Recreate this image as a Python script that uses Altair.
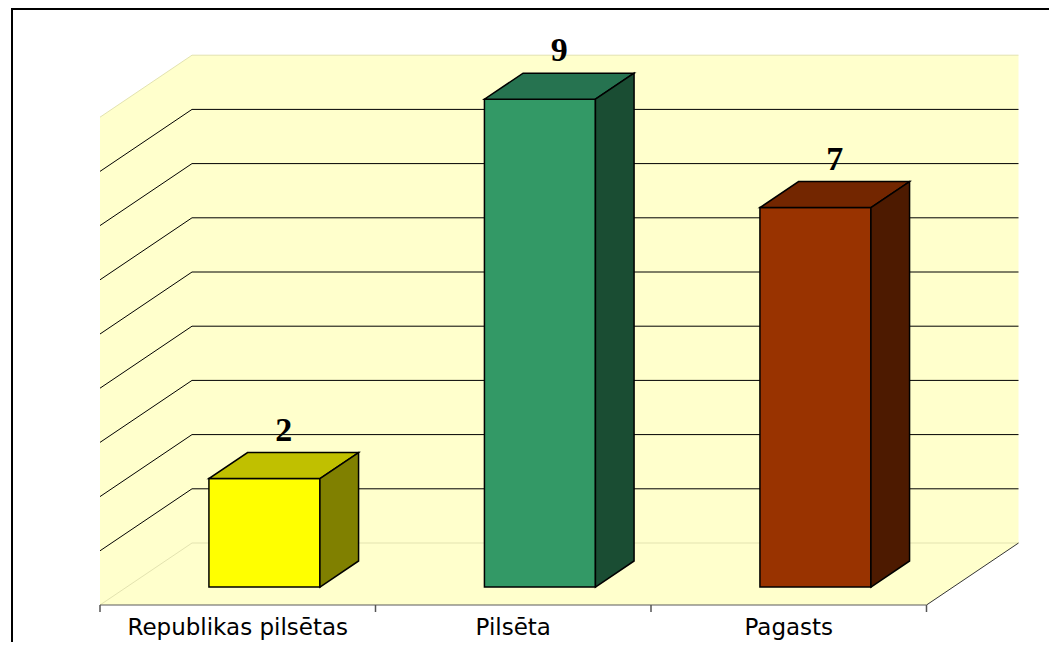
import altair as alt
import pandas as pd

# ---- data ----
categories = ["Republikas pilsētas", "Pilsēta", "Pagasts"]
values = [2, 9, 7]
front_colors = ["#FFFF00", "#339966", "#993300"]
top_colors = ["#C0C000", "#267350", "#732600"]
side_colors = ["#808000", "#1A4D33", "#4D1A00"]
grid_values = [1, 2, 3, 4, 5, 6, 7, 8]
wall_max = 9

# ---- style / projection constants ----
CAT_PX = 275.5          # pixels per category along the front edge
VAL_PX = 54.2           # pixels per value unit
DX = 92 / CAT_PX        # depth shift in x (category units)
DY = 62 / VAL_PX        # depth shift in y (value units)
BAR_W = 111 / CAT_PX
D0, D1 = 0.29, 0.71     # bar front / back depth (0 = front, 1 = back wall)
W, H = 1041, 634
ORIGIN_X_PX = 92
ZERO_Y_PX = 535
WALL = "#FFFFCC"
LIGHT = "#E3E3B0"

xdom = [-ORIGIN_X_PX / CAT_PX, (W - ORIGIN_X_PX) / CAT_PX]
ydom = [(ZERO_Y_PX - H) / VAL_PX, ZERO_Y_PX / VAL_PX]
n = len(categories)

xs = alt.Scale(domain=xdom, nice=False, zero=False)
ys = alt.Scale(domain=ydom, nice=False, zero=False)


def X(f="x"):
    return alt.X(f"{f}:Q", scale=xs, axis=None)


def Y(f="y"):
    return alt.Y(f"{f}:Q", scale=ys, axis=None, stack=None)


# ---- walls + floor (one area) ----
walls = pd.DataFrame({
    "x": [0, DX, n, n + DX],
    "y": [-DY, -DY, -DY, 0],
    "y2": [wall_max - DY, wall_max, wall_max, wall_max],
})
wall_layer = alt.Chart(walls).mark_area(fill=WALL, opacity=1).encode(
    x=X(), y=Y(), y2="y2:Q"
)

# ---- gridlines ----
rows = []
for g in [0] + grid_values + [wall_max]:
    col = LIGHT if g in (0, wall_max) else "#000000"
    for (px, py) in [(0, g - DY), (DX, g), (n + DX, g)]:
        rows.append({"id": f"g{g}", "x": px, "y": py, "c": col, "w": 1.0})
# front floor edge and right floor edge
for (px, py) in [(0, -DY), (n, -DY)]:
    rows.append({"id": "front", "x": px, "y": py, "c": "#5A5A5A", "w": 2.0})
for (px, py) in [(n, -DY), (n + DX, 0)]:
    rows.append({"id": "right", "x": px, "y": py, "c": "#333333", "w": 1.2})
lines = pd.DataFrame(rows)
grid_layer = alt.Chart(lines).mark_line(strokeWidth=1).encode(
    x=X(), y=Y(), detail="id:N",
    color=alt.Color("c:N", scale=None),
    strokeWidth=alt.StrokeWidth("w:Q", scale=None),
)

# ---- ticks on front edge ----
ticks = pd.DataFrame({"x": list(range(n + 1))})
ticks["y"] = -DY
ticks["y2"] = -DY - 7 / VAL_PX
tick_layer = alt.Chart(ticks).mark_rule(color="#555555", strokeWidth=1.5).encode(
    x=X(), y=Y(), y2="y2:Q"
)

# ---- bars ----
front_rows, top_rows, side_rows, label_rows = [], [], [], []
s = (D1 - D0) * DX
hy = (D1 - D0) * DY
for i, (cat, v) in enumerate(zip(categories, values)):
    cx = i + 0.5
    xa = cx - BAR_W / 2 + D0 * DX
    xb = cx + BAR_W / 2 + D0 * DX
    y0 = -(1 - D0) * DY
    yt = v + y0
    front_rows.append({"x": xa, "x2": xb, "y": y0, "y2": yt, "c": front_colors[i]})
    for (px, p1, p2) in [(xa, yt, yt), (xa + s, yt, yt + hy), (xb, yt, yt + hy), (xb + s, yt + hy, yt + hy)]:
        top_rows.append({"id": i, "x": px, "y": p1, "y2": p2, "c": top_colors[i]})
    for (px, p1, p2) in [(xb, y0, yt), (xb + s, y0 + hy, yt + hy)]:
        side_rows.append({"id": i, "x": px, "y": p1, "y2": p2, "c": side_colors[i]})
    label_rows.append({"x": (xa + xb + s) / 2, "y": yt + hy, "t": str(v)})

front_layer = alt.Chart(pd.DataFrame(front_rows)).mark_rect(
    stroke="black", strokeWidth=1.5, opacity=1
).encode(x=X(), x2="x2:Q", y=Y(), y2="y2:Q", color=alt.Color("c:N", scale=None))

top_layer = alt.Chart(pd.DataFrame(top_rows)).mark_area(
    stroke="black", strokeWidth=1.5, opacity=1, strokeJoin="miter"
).encode(x=X(), y=Y(), y2="y2:Q", detail="id:N", color=alt.Color("c:N", scale=None))

side_layer = alt.Chart(pd.DataFrame(side_rows)).mark_area(
    stroke="black", strokeWidth=1.5, opacity=1, strokeJoin="miter"
).encode(x=X(), y=Y(), y2="y2:Q", detail="id:N", color=alt.Color("c:N", scale=None))

label_layer = alt.Chart(pd.DataFrame(label_rows)).mark_text(
    font="Liberation Serif", fontWeight="bold", fontSize=34,
    baseline="alphabetic", align="center", dy=-12, color="black"
).encode(x=X(), y=Y(), text="t:N")

# ---- category labels ----
cat_df = pd.DataFrame({"x": [i + 0.5 for i in range(n)], "t": categories})
cat_df["y"] = -DY
cat_layer = alt.Chart(cat_df).mark_text(
    font="DejaVu Sans", fontSize=23, baseline="alphabetic", align="center",
    dy=30, color="black"
).encode(x=X(), y=Y(), text="t:N")

# ---- outer border ----
border_df = pd.DataFrame({"k": [0]})
border_left = alt.Chart(border_df).mark_rule(color="black", strokeWidth=2).encode(
    x=alt.value(4), y=alt.value(0), y2=alt.value(H)
)
border_top = alt.Chart(border_df).mark_rule(color="black", strokeWidth=2).encode(
    x=alt.value(4), x2=alt.value(W), y=alt.value(1)
)

chart = alt.layer(
    wall_layer, grid_layer, tick_layer,
    front_layer, top_layer, side_layer,
    label_layer, cat_layer, border_left, border_top,
).properties(
    width=W, height=H, autosize=alt.AutoSizeParams(type="none"), padding=0,
    background="white",
).configure_view(stroke=None)

chart.save("out.html", embed_options={"renderer": "svg", "actions": False})
